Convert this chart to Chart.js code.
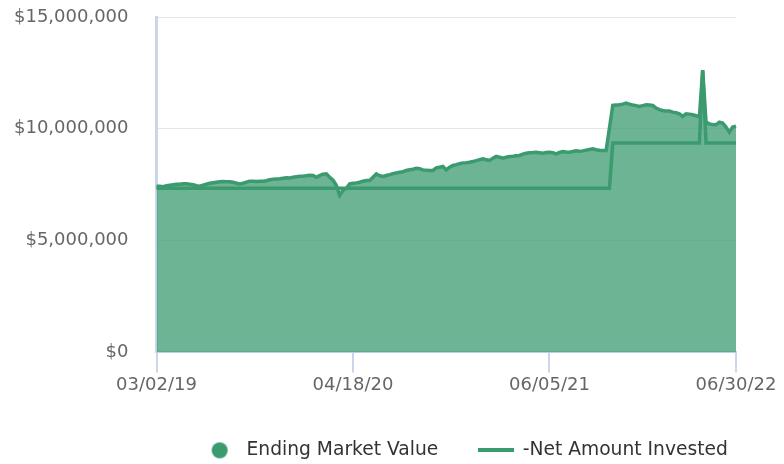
<!DOCTYPE html>
<html lang="en">
<head>
    <meta charset="UTF-8">
    <title>Ending Market Value vs Net Amount Invested</title>
    <script src="https://cdn.jsdelivr.net/npm/chart.js"></script>
    <style>
        html, body { margin: 0; padding: 0; background: #fff; }
        #wrap { width: 784px; height: 464px; }
    </style>
</head>
<body>
<div id="wrap"><canvas id="valueChart"></canvas></div>

<script>
    // weekly dates (last point is month end)
    var dates = [
        "03/02/19","03/09/19","03/16/19","03/23/19","03/30/19","04/06/19","04/13/19","04/20/19","04/27/19","05/04/19",
        "05/11/19","05/18/19","05/25/19","06/01/19","06/08/19","06/15/19","06/22/19","06/29/19","07/06/19","07/13/19",
        "07/20/19","07/27/19","08/03/19","08/10/19","08/17/19","08/24/19","08/31/19","09/07/19","09/14/19","09/21/19",
        "09/28/19","10/05/19","10/12/19","10/19/19","10/26/19","11/02/19","11/09/19","11/16/19","11/23/19","11/30/19",
        "12/07/19","12/14/19","12/21/19","12/28/19","01/04/20","01/11/20","01/18/20","01/25/20","02/01/20","02/08/20",
        "02/15/20","02/22/20","02/29/20","03/07/20","03/14/20","03/21/20","03/28/20","04/04/20","04/11/20","04/18/20",
        "04/25/20","05/02/20","05/09/20","05/16/20","05/23/20","05/30/20","06/06/20","06/13/20","06/20/20","06/27/20",
        "07/04/20","07/11/20","07/18/20","07/25/20","08/01/20","08/08/20","08/15/20","08/22/20","08/29/20","09/05/20",
        "09/12/20","09/19/20","09/26/20","10/03/20","10/10/20","10/17/20","10/24/20","10/31/20","11/07/20","11/14/20",
        "11/21/20","11/28/20","12/05/20","12/12/20","12/19/20","12/26/20","01/02/21","01/09/21","01/16/21","01/23/21",
        "01/30/21","02/06/21","02/13/21","02/20/21","02/27/21","03/06/21","03/13/21","03/20/21","03/27/21","04/03/21",
        "04/10/21","04/17/21","04/24/21","05/01/21","05/08/21","05/15/21","05/22/21","05/29/21","06/05/21","06/12/21",
        "06/19/21","06/26/21","07/03/21","07/10/21","07/17/21","07/24/21","07/31/21","08/07/21","08/14/21","08/21/21",
        "08/28/21","09/04/21","09/11/21","09/18/21","09/25/21","10/02/21","10/09/21","10/16/21","10/23/21","10/30/21",
        "11/06/21","11/13/21","11/20/21","11/27/21","12/04/21","12/11/21","12/18/21","12/25/21","01/01/22","01/08/22",
        "01/15/22","01/22/22","01/29/22","02/05/22","02/12/22","02/19/22","02/26/22","03/05/22","03/12/22","03/19/22",
        "03/26/22","04/02/22","04/09/22","04/16/22","04/23/22","04/30/22","05/07/22","05/14/22","05/21/22","05/28/22",
        "06/04/22","06/11/22","06/18/22","06/25/22","06/30/22"
    ];

    // only these dates get a tick on the x axis
    var tickDates = ["03/02/19", "04/18/20", "06/05/21", "06/30/22"];

    var marketValue = [
        7430000, 7430000, 7410000, 7455000, 7478000, 7500000, 7522000, 7522000, 7545000, 7545000,
        7522000, 7500000, 7455000, 7433000, 7478000, 7522000, 7567000, 7590000, 7612000, 7634000,
        7643000, 7634000, 7634000, 7612000, 7567000, 7536000, 7567000, 7612000, 7657000, 7657000,
        7643000, 7657000, 7657000, 7679000, 7724000, 7746000, 7760000, 7769000, 7791000, 7813000,
        7804000, 7836000, 7858000, 7881000, 7881000, 7903000, 7925000, 7912000, 7836000, 7903000,
        7970000, 7984000, 7836000, 7701000, 7478000, 7030000, 7254000, 7343000, 7536000, 7567000,
        7581000, 7612000, 7657000, 7688000, 7688000, 7836000, 7984000, 7903000, 7867000, 7912000,
        7948000, 7993000, 8028000, 8060000, 8082000, 8136000, 8172000, 8194000, 8239000, 8216000,
        8163000, 8149000, 8136000, 8136000, 8252000, 8284000, 8315000, 8163000, 8284000, 8360000,
        8396000, 8440000, 8476000, 8485000, 8507000, 8539000, 8575000, 8619000, 8655000, 8619000,
        8584000, 8687000, 8763000, 8731000, 8687000, 8731000, 8763000, 8776000, 8798000, 8807000,
        8866000, 8910000, 8933000, 8942000, 8955000, 8933000, 8910000, 8942000, 8955000, 8933000,
        8879000, 8942000, 8987000, 8964000, 8955000, 8987000, 9013000, 9000000, 9013000, 9045000,
        9076000, 9103000, 9067000, 9045000, 9030000, 9030000, 10030000, 11046000, 11060000, 11073000,
        11104000, 11149000, 11104000, 11060000, 11037000, 11001000, 11037000, 11073000, 11060000, 11046000,
        10925000, 10858000, 10822000, 10791000, 10791000, 10746000, 10724000, 10670000, 10554000, 10670000,
        10657000, 10625000, 10590000, 10522000, 12627000, 10298000, 10222000, 10187000, 10178000, 10298000,
        10254000, 10075000, 9851000, 10075000, 10119000
    ];

    var netInvested = [
        7340000, 7340000, 7340000, 7340000, 7340000, 7340000, 7340000, 7340000, 7340000, 7340000,
        7340000, 7340000, 7340000, 7340000, 7340000, 7340000, 7340000, 7340000, 7340000, 7340000,
        7340000, 7340000, 7340000, 7340000, 7340000, 7340000, 7340000, 7340000, 7340000, 7340000,
        7340000, 7340000, 7340000, 7340000, 7340000, 7340000, 7340000, 7340000, 7340000, 7340000,
        7340000, 7340000, 7340000, 7340000, 7340000, 7340000, 7340000, 7340000, 7340000, 7340000,
        7340000, 7340000, 7340000, 7340000, 7340000, 7340000, 7340000, 7340000, 7340000, 7340000,
        7340000, 7340000, 7340000, 7340000, 7340000, 7340000, 7340000, 7340000, 7340000, 7340000,
        7340000, 7340000, 7340000, 7340000, 7340000, 7340000, 7340000, 7340000, 7340000, 7340000,
        7340000, 7340000, 7340000, 7340000, 7340000, 7340000, 7340000, 7340000, 7340000, 7340000,
        7340000, 7340000, 7340000, 7340000, 7340000, 7340000, 7340000, 7340000, 7340000, 7340000,
        7340000, 7340000, 7340000, 7340000, 7340000, 7340000, 7340000, 7340000, 7340000, 7340000,
        7340000, 7340000, 7340000, 7340000, 7340000, 7340000, 7340000, 7340000, 7340000, 7340000,
        7340000, 7340000, 7340000, 7340000, 7340000, 7340000, 7340000, 7340000, 7340000, 7340000,
        7340000, 7340000, 7340000, 7340000, 7340000, 7340000, 7340000, 9360000, 9360000, 9360000,
        9360000, 9360000, 9360000, 9360000, 9360000, 9360000, 9360000, 9360000, 9360000, 9360000,
        9360000, 9360000, 9360000, 9360000, 9360000, 9360000, 9360000, 9360000, 9360000, 9360000,
        9360000, 9360000, 9360000, 9360000, 12600000, 9360000, 9360000, 9360000, 9360000, 9360000,
        9360000, 9360000, 9360000, 9360000, 9360000
    ];

    var green = "#3b9b6f";
    var greenFill = "rgba(59, 155, 111, 0.75)";
    var axisBlue = "#ccd6eb";
    var fontName = "'DejaVu Sans', Verdana, sans-serif";

    // little pictures for the legend keys
    function makeDot() {
        var c = document.createElement("canvas");
        c.width = 18; c.height = 18;
        var g = c.getContext("2d");
        g.fillStyle = green;
        g.beginPath();
        g.arc(9, 9, 8, 0, Math.PI * 2);
        g.fill();
        return c;
    }
    function makeDash() {
        var c = document.createElement("canvas");
        c.width = 36; c.height = 4;
        var g = c.getContext("2d");
        g.fillStyle = green;
        g.fillRect(0, 0, 36, 4);
        return c;
    }
    var legendIcons = [makeDot(), makeDash()];

    // legend needs wide gaps between items but not the tall box that comes with them,
    // and it sits a bit right of centre
    var legendBox = {
        id: "legendBox",
        beforeLayout: function(chart) {
            var lg = chart.legend;
            if (lg && !lg._squeezed) {
                var fit = lg.fit;
                lg.fit = function() {
                    fit.call(this);
                    this.height = 66;
                };
                lg._squeezed = true;
            }
        },
        afterLayout: function(chart) {
            var lg = chart.legend;
            lg.top += 3;
            lg.left += 92;
            lg.right += 92;
        }
    };

    var ctx = document.getElementById("valueChart");

    var myChart = new Chart(ctx, {
        type: "line",
        data: {
            labels: dates,
            datasets: [
                {
                    label: "Ending Market Value",
                    data: marketValue,
                    borderColor: green,
                    backgroundColor: greenFill,
                    borderWidth: 3.5,
                    fill: "origin",
                    pointRadius: 0,
                    tension: 0,
                    order: 1
                },
                {
                    label: "-Net Amount Invested",
                    data: netInvested,
                    borderColor: green,
                    backgroundColor: green,
                    borderWidth: 3.5,
                    fill: false,
                    pointRadius: 0,
                    tension: 0,
                    order: 0
                }
            ]
        },
        options: {
            responsive: true,
            maintainAspectRatio: false,
            animation: false,
            layout: {
                padding: { top: 17, left: 10, right: 48, bottom: 0 }
            },
            scales: {
                x: {
                    type: "category",
                    afterBuildTicks: function(axis) {
                        axis.ticks = axis.ticks.filter(function(t) {
                            return tickDates.indexOf(dates[t.value]) !== -1;
                        });
                    },
                    ticks: {
                        autoSkip: false,
                        maxRotation: 0,
                        padding: 2,
                        color: "#666666",
                        font: { family: fontName, size: 18 }
                    },
                    grid: {
                        drawOnChartArea: false,
                        drawTicks: true,
                        tickLength: 20,
                        color: axisBlue,
                        lineWidth: 2
                    },
                    border: { color: axisBlue, width: 2 }
                },
                y: {
                    min: 0,
                    max: 15000000,
                    ticks: {
                        stepSize: 5000000,
                        padding: 4,
                        color: "#666666",
                        font: { family: fontName, size: 18 },
                        callback: function(v) {
                            return "$" + v.toLocaleString("en-US");
                        }
                    },
                    grid: {
                        color: "#e6e6e6",
                        drawTicks: true,
                        tickLength: 24,
                        tickColor: "rgba(0,0,0,0)"
                    },
                    border: { color: axisBlue, width: 3 }
                }
            },
            plugins: {
                tooltip: { enabled: false },
                legend: {
                    position: "bottom",
                    labels: {
                        usePointStyle: true,
                        pointStyleWidth: 35,
                        boxHeight: 18,
                        padding: 40,
                        color: "#333333",
                        font: { family: fontName, size: 18.7 },
                        generateLabels: function(chart) {
                            var items = Chart.defaults.plugins.legend.labels.generateLabels(chart);
                            items.sort(function(a, b) { return a.datasetIndex - b.datasetIndex; });
                            items.forEach(function(item) {
                                item.pointStyle = legendIcons[item.datasetIndex];
                            });
                            return items;
                        }
                    }
                }
            }
        },
        plugins: [legendBox]
    });
</script>
</body>
</html>
